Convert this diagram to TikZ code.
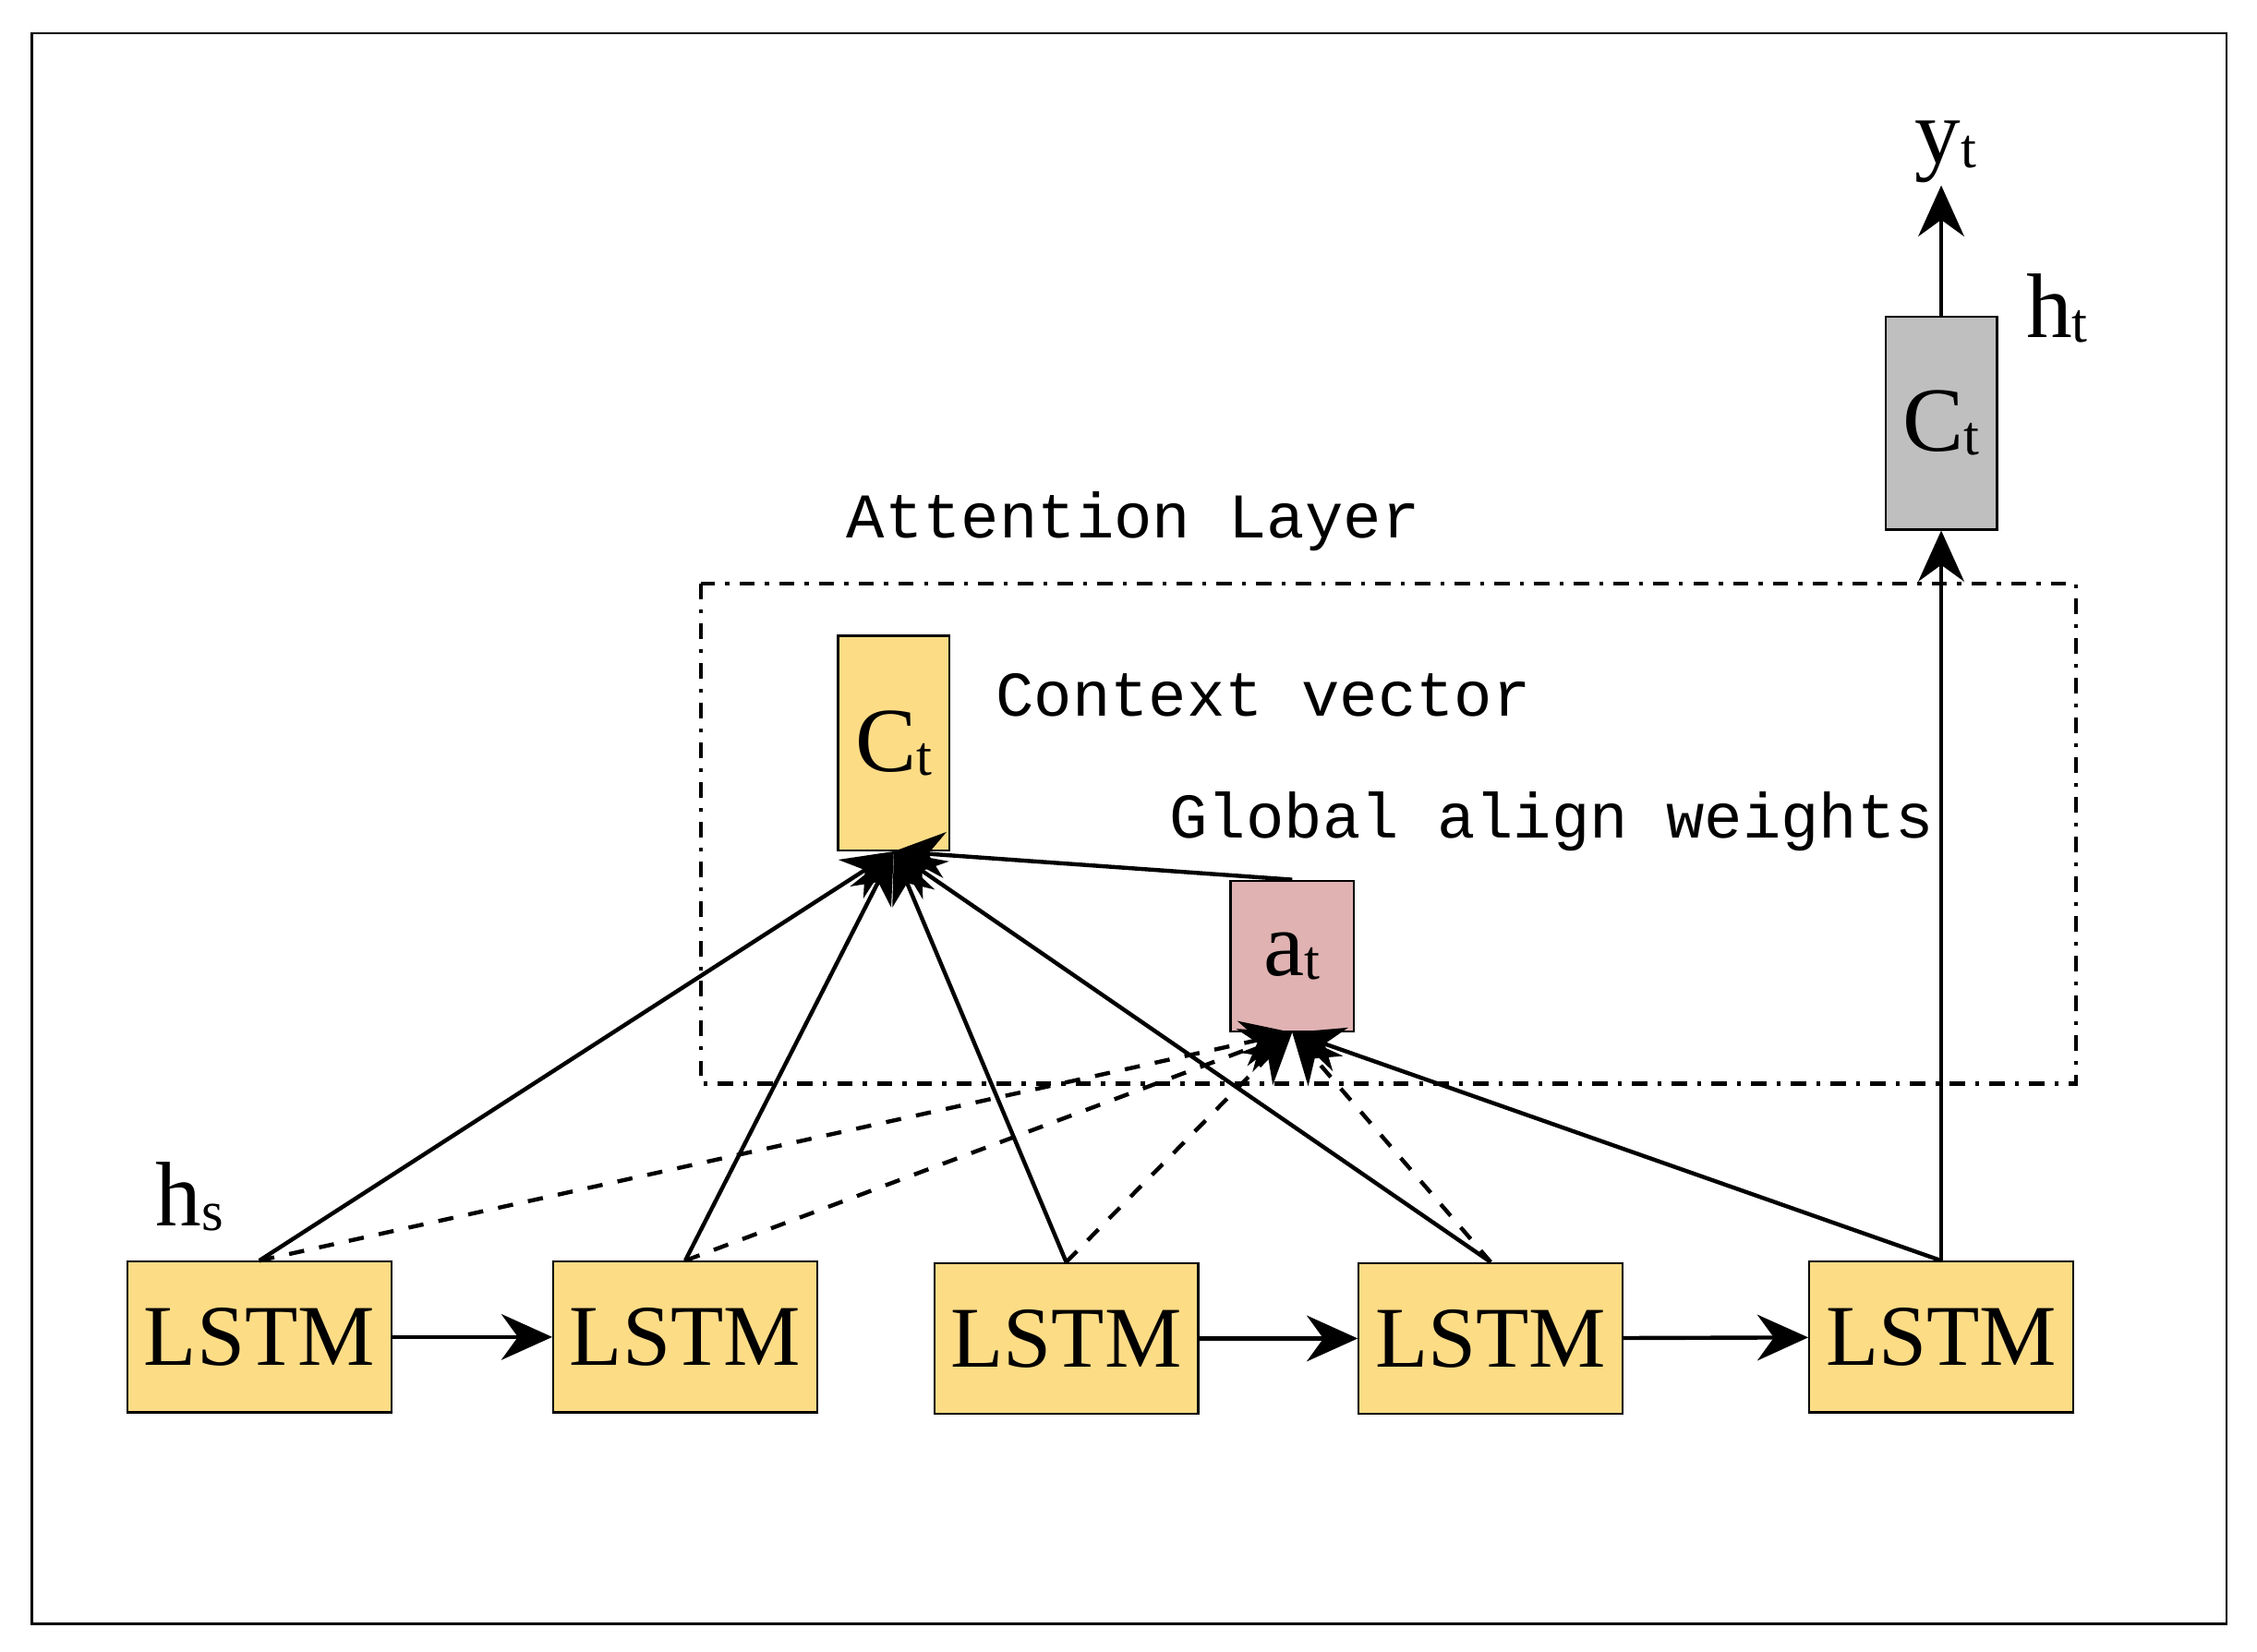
\documentclass[tikz,border=0pt]{standalone}
\usepackage{fontspec}
\setmainfont{Liberation Serif}
\newfontfamily\labelfont{Liberation Mono}
\usetikzlibrary{arrows.meta,positioning}
\newcommand{\lowsub}[1]{\raisebox{-0.1ex}{\fontsize{11}{11}\selectfont #1}}
\begin{document}
\begin{tikzpicture}[x=0.01cm,y=-0.01cm,
    cell/.style={draw, thin, fill=yellow!45!orange!45, inner sep=0pt, minimum width=1.82cm, minimum height=1.04cm, font=\fontsize{17}{17}\selectfont},
    link/.style={thick, -{Stealth[length=10pt,width=9pt]}},
    weight/.style={thick, dashed, -{Stealth[length=10pt,width=9pt]}},
    note/.style={font=\labelfont\fontsize{12.5}{12.5}\selectfont, anchor=west},
    big/.style={font=\fontsize{18}{18}\selectfont}]
  \useasboundingbox (0,0) rectangle (1558,1140);
  \draw (22,23) rectangle (1537,1121);
  % encoder cells
  \node[cell] (l1) at (179,923) {LSTM};
  \node[cell] (l2) at (473,923) {LSTM};
  \node[cell] (l3) at (736,924) {LSTM};
  \node[cell] (l4) at (1029,924) {LSTM};
  \node[cell] (l5) at (1340,923) {LSTM};
  \draw[link] (l1) -- (l2);
  \draw[link] (l3) -- (l4);
  \draw[link] (l4) -- (l5);
  % attention layer
  \draw[thick, dash dot] (484,403) rectangle (1433,748);
  \node[note] at (572,360) {Attention Layer};
  \node[cell, big, minimum width=0.77cm, minimum height=1.48cm] (ct) at (617,513) {C\lowsub{t}};
  \node[cell, big, fill=red!60!black!30, minimum width=0.85cm, minimum height=1.04cm] (at) at (892,660) {a\lowsub{t}};
  \node[note] at (675,480) {Context vector};
  \node[note] at (795,567) {Global align weights};
  \node[cell, big, fill=black!25, minimum width=0.77cm, minimum height=1.47cm] (ht) at (1340,292) {C\lowsub{t}};
  \coordinate (y) at (1340,128);
  \node[big] (ylab) at (1343,105) {y\lowsub{t}};
  \node[big] (hlab) at (1420,213) {h\lowsub{t}};
  \node[big] (slab) at (131,826) {h\lowsub{s}};
  % context links
  \foreach \c in {l1,l2,l3,l4}
    \draw[link] (\c.north) -- (ct.south);
  \draw[link] (at.north) -- (ct.south);
  \foreach \c in {l1,l2,l3,l4}
    \draw[weight] (\c.north) -- (at.south);
  \draw[link] (l5.north) -- (at.south);
  \draw[link] (l5.north) -- (ht.south);
  \draw[link] (ht.north) -- (y);
\end{tikzpicture}
\end{document}
